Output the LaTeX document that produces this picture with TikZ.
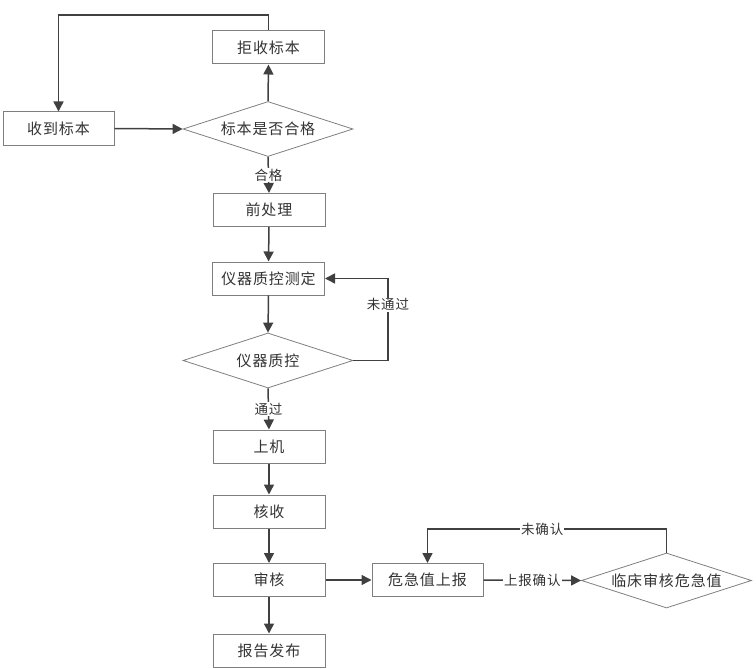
\documentclass[tikz,border=0pt]{standalone}
\usepackage{fontspec}
\setmainfont{Noto Sans CJK SC}
\newfontfamily\boxfont[LetterSpace=6]{Noto Sans CJK SC}
\newfontfamily\lblfont[LetterSpace=6]{Noto Sans CJK SC}
\usetikzlibrary{arrows.meta,shapes.geometric}
\definecolor{linec}{HTML}{404040}
\definecolor{boxc}{HTML}{7F7F7F}
\definecolor{txtc}{HTML}{333333}
\begin{document}
\begin{tikzpicture}[x=1pt,y=-1pt,
  box/.style={draw=boxc, line width=1pt, minimum width=112pt, minimum height=33pt, inner sep=0pt, text=txtc, font=\boxfont\fontsize{15}{16}\selectfont},
  dia/.style={diamond, draw=boxc, line width=0.8pt, minimum width=170pt, minimum height=55pt, aspect=3.1, inner sep=0pt, text=txtc, font=\boxfont\fontsize{15}{16}\selectfont},
  arr/.style={draw=linec, line width=1.5pt, -{Triangle[length=10pt,width=10pt]}},
  lbl/.style={fill=white, inner sep=1pt, text=txtc, font=\lblfont\fontsize{13.5}{14}\selectfont}]
\useasboundingbox (0,0) rectangle (756,669);
\node[box] (rej) at (268.5,47.5) {拒收标本};
\node[box, minimum width=111pt] (recv) at (58.5,128.5) {收到标本};
\node[dia] (q1) at (268,129) {标本是否合格};
\node[box] (pre) at (269,210) {前处理};
\node[box] (qc) at (268.5,278.5) {仪器质控测定};
\node[dia] (q2) at (268,360.5) {仪器质控};
\node[box] (on) at (269,446.5) {上机};
\node[box] (hs) at (269,511.5) {核收};
\node[box] (sh) at (269,580) {审核};
\node[box] (rep) at (269,650.5) {报告发布};
\node[box, minimum width=111pt] (cr) at (427.5,580) {危急值上报};
\node[dia] (q3) at (666.5,580.5) {临床审核危急值};
\coordinate (c1) at (58.5,15);
\coordinate (c2) at (388,360.5);
\coordinate (c3) at (427.5,529);
\draw[arr] (recv.east) -- (q1.west);
\draw[arr] (q1.north) -- (rej.south);
\draw[arr] (rej.north) |- (c1) -- (recv.north);
\draw[arr] (q1.south) -- node[lbl] {合格} (pre.north);
\draw[arr] (pre.south) -- (qc.north);
\draw[arr] (qc.south) -- (q2.north);
\draw[arr] (q2.east) -- (c2) |- node[lbl, pos=0.34] {未通过} (qc.east);
\draw[arr] (q2.south) -- node[lbl] {通过} (on.north);
\draw[arr] (on.south) -- (hs.north);
\draw[arr] (hs.south) -- (sh.north);
\draw[arr] (sh.south) -- (rep.north);
\draw[arr] (sh.east) -- (cr.west);
\draw[arr] (cr.east) -- node[lbl] {上报确认} (q3.west);
\draw[arr] (q3.north) |- node[lbl, pos=0.76] {未确认} (c3) -- (cr.north);
\end{tikzpicture}
\end{document}
